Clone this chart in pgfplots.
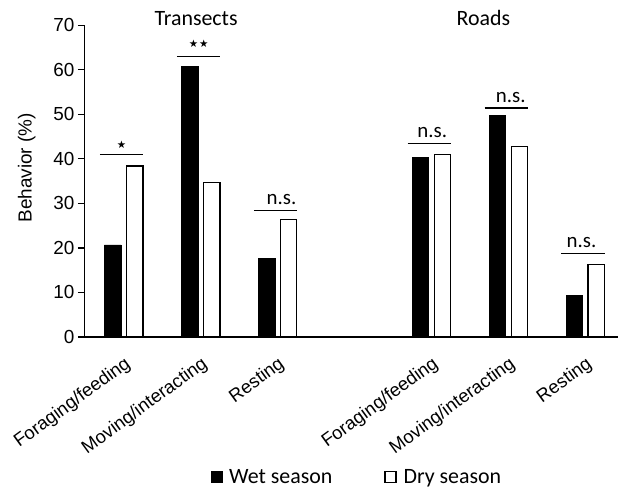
\documentclass[border=0pt]{standalone}
\usepackage{pgfplots}
\pgfplotsset{compat=1.18}
\usepackage{fontspec}
\setmainfont{Liberation Sans}
\newfontfamily\calfont{Carlito}
\newfontfamily\djv{DejaVu Sans}
\begin{document}
\begin{tikzpicture}
\begin{axis}[
  scale only axis, width=534bp, height=312bp,
  xmin=-0.506, xmax=6.43, ymin=0, ymax=70,
  axis lines=left, axis line style={-, line width=1.2bp},
  ytick={0,10,...,70},
  xtick={0,1,2,4,5,6},
  xticklabels={Foraging/feeding, Moving/interacting, Resting, Foraging/feeding, Moving/interacting, Resting},
  x tick style={draw=none},
  y tick style={line width=1.2bp, black},
  tick align=outside, major tick length=7bp,
  tick label style={font=\fontsize{19}{22}\selectfont},
  /pgf/number format/assume math mode=true,
  xticklabel style={rotate=36, anchor=north east, inner sep=2bp, xshift=-5bp, yshift=-7bp, font=\fontsize{18.5}{21}\selectfont},
  clip=false,
  ybar, bar width=0.215,
  legend style={at={(rel axis cs:0.509,-0.45)}, anchor=center, draw=none, fill=none,
    legend columns=2, font=\calfont\fontsize{22}{24}\selectfont,
    /tikz/every even column/.append style={column sep=49bp}},
  legend cell align=left,
  legend image code/.code={\draw[#1] (0bp,-5.5bp) rectangle (11bp,5.5bp); \path (-1bp,0bp) (16bp,0bp);},
]
\addplot[fill=black, draw=black, line width=0.6bp, bar shift=-0.143]
  coordinates {(0,20.7) (1,60.8) (2,17.7) (4,40.4) (5,49.7) (6,9.4)};
\addlegendentry{Wet season}
\addplot[fill=white, draw=black, line width=1.2bp, bar shift=0.143]
  coordinates {(0,38.4) (1,34.7) (2,26.3) (4,41.0) (5,42.7) (6,16.2)};
\addlegendentry{Dry season}
% significance lines
\addplot[sharp plot, mark=none, black, line width=1.2bp, forget plot] coordinates {(-0.31,40.9) (0.255,40.9)};
\addplot[sharp plot, mark=none, black, line width=1.2bp, forget plot] coordinates {(0.69,63.0) (1.255,63.0)};
\addplot[sharp plot, mark=none, black, line width=1.2bp, forget plot] coordinates {(1.69,28.4) (2.255,28.4)};
\addplot[sharp plot, mark=none, black, line width=1.2bp, forget plot] coordinates {(3.69,43.4) (4.255,43.4)};
\addplot[sharp plot, mark=none, black, line width=1.2bp, forget plot] coordinates {(4.69,51.4) (5.255,51.4)};
\addplot[sharp plot, mark=none, black, line width=1.2bp, forget plot] coordinates {(5.69,18.7) (6.255,18.7)};
% labels
\node[font=\djv\fontsize{10.5}{12}\selectfont, anchor=center, inner sep=0pt] at (axis cs:-0.03,43.2) {★};
\node[font=\djv\fontsize{10.5}{12}\selectfont, anchor=center, inner sep=0pt] at (axis cs:0.974,65.9) {★\kern1bp★};
\node[font=\calfont\fontsize{21}{22}\selectfont, anchor=base] at (axis cs:2.05,29.7) {n.s.};
\node[font=\calfont\fontsize{21}{22}\selectfont, anchor=base] at (axis cs:4.01,44.7) {n.s.};
\node[font=\calfont\fontsize{21}{22}\selectfont, anchor=base] at (axis cs:5.03,52.7) {n.s.};
\node[font=\calfont\fontsize{21}{22}\selectfont, anchor=base] at (axis cs:5.95,20.0) {n.s.};
\node[font=\calfont\fontsize{22}{24}\selectfont, anchor=base] at (axis cs:0.94,69.85) {Transects};
\node[font=\calfont\fontsize{22}{24}\selectfont, anchor=base] at (axis cs:4.675,69.85) {Roads};
\node[font=\fontsize{19}{22}\selectfont, rotate=90, anchor=center, inner sep=0pt] at (rel axis cs:-0.109,0.543) {Behavior (\%)};
\path (rel axis cs:-0.159,-0.484) rectangle (rel axis cs:1,1.081);
\end{axis}
\end{tikzpicture}
\end{document}
